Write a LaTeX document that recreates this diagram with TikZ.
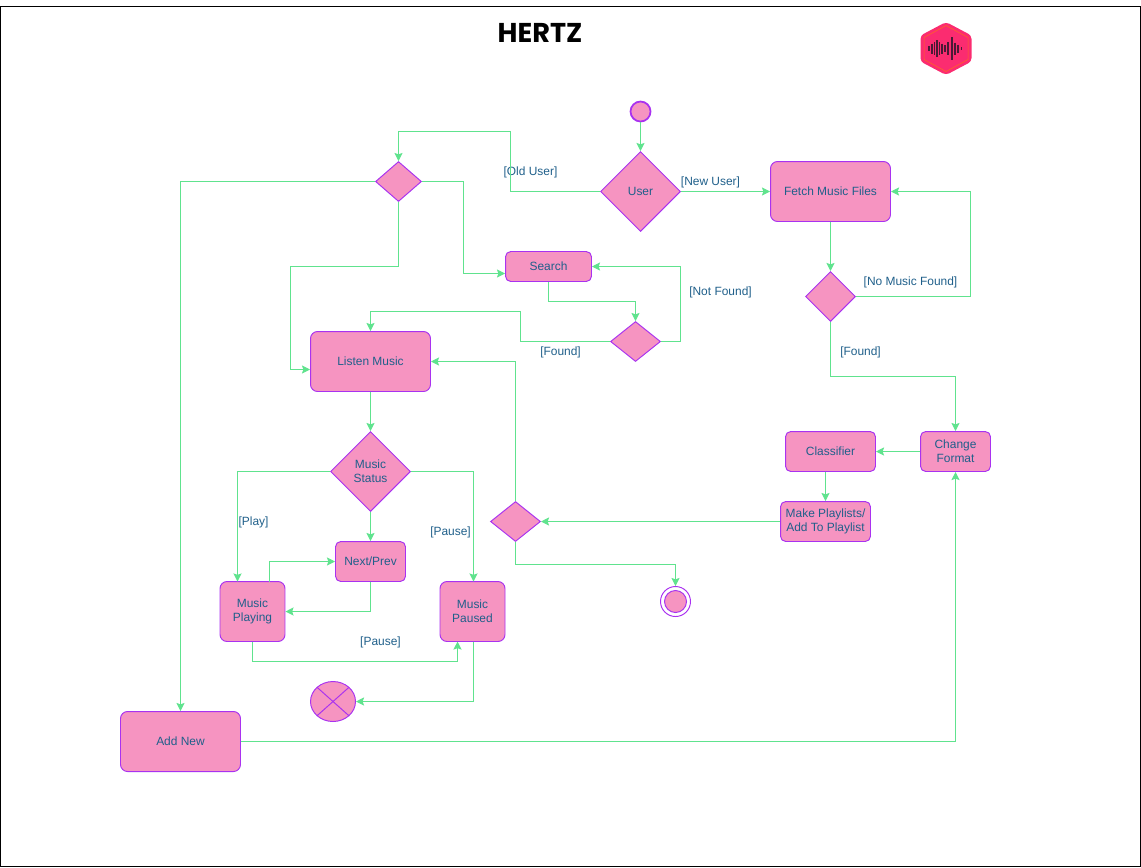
\documentclass[tikz,border=0pt]{standalone}
\usepackage{fontspec}
\setmainfont{Liberation Sans}
\newfontfamily\titlefont{Poppins}
\usepackage{tikz}
\usetikzlibrary{arrows.meta,shapes.geometric}
\definecolor{nodefill}{HTML}{F694C1}
\definecolor{nodeline}{HTML}{A932F0}
\definecolor{flowline}{HTML}{60E38E}
\definecolor{labeltext}{HTML}{1F5F8A}
\definecolor{logopink}{HTML}{FB2C70}
\definecolor{logodark}{HTML}{4A1A35}
\tikzset{
  every node/.style = {font=\fontsize{6.8pt}{8pt}\selectfont, text=labeltext},
  box/.style = {rectangle, rounded corners=4pt, fill=nodefill, draw=nodeline, line width=0.55pt,
    align=center, inner sep=0pt, minimum width=#1},
  choice/.style = {diamond, fill=nodefill, draw=nodeline, line width=0.55pt, align=center, inner sep=0pt},
  disc/.style = {circle, fill=nodefill, draw=nodeline, inner sep=0pt},
  guard/.style = {inner sep=0pt},
  dedge/.style = {draw=flowline, line width=0.55pt, -{Stealth[length=4.6pt,width=4.6pt,inset=0.8pt]}},
}
\begin{document}
\begin{tikzpicture}[x=0.02cm,y=-0.02cm]
  \useasboundingbox (0,0) rectangle (1141,867);
  \draw[black,line width=0.6pt] (0.5,6.5) rectangle (1140.5,866.5);
  \node[guard,font=\titlefont\bfseries\fontsize{15.5pt}{18pt}\selectfont,text=black] (title) at (540,32.5) {HERTZ};

  % logo
  \fill[logopink,rounded corners=2pt] (946,22) -- (971.5,35.5) -- (971.5,61.5) -- (946,75) -- (920.5,61.5) -- (920.5,35.5) -- cycle;
  \draw[orange!70!logopink,line width=0.3pt] (946,25.5) -- (968,37.5) -- (968,59.5) -- (946,71.5) -- (924,59.5) -- (924,37.5) -- cycle;
  \foreach \x/\h in {929/5,932/10,934.5/13,937/17,939.5/13,942/10,945/7,948/13,952/23,955/12,958/8,961.5/3}
    \draw[logodark,line width=0.85pt] (\x,48.5-\h/2) -- (\x,48.5+\h/2);

  % nodes
  \node[disc,line width=1pt,minimum size=0.4cm] (start) at (640.5,111.5) {};
  \node[choice,minimum width=1.6cm,minimum height=1.6cm] (user) at (640.5,191.5) {User};
  \node[choice,minimum width=0.92cm,minimum height=0.8cm] (pick) at (398.5,181.5) {};
  \node[box=2.4cm,minimum height=1.2cm] (fetch) at (830.5,191.5) {Fetch Music Files};
  \node[box=1.72cm,minimum height=0.6cm,rounded corners=3pt] (search) at (548.5,266.5) {Search};
  \node[choice,minimum width=1cm,minimum height=0.8cm] (foundcheck) at (635.5,341.5) {};
  \node[choice,minimum width=1cm,minimum height=1cm] (filecheck) at (830.5,296.5) {};
  \node[box=2.4cm,minimum height=1.2cm] (listen) at (370.5,361.5) {Listen Music};
  \node[choice,minimum width=1.6cm,minimum height=1.6cm] (status) at (370.5,471.5) {Music\\Status};
  \node[box=1.4cm,minimum height=0.8cm,rounded corners=3pt] (format) at (955.5,451.5) {Change\\Format};
  \node[box=1.8cm,minimum height=0.8cm,rounded corners=3pt] (classifier) at (830.5,451.5) {Classifier};
  \node[box=1.8cm,minimum height=0.8cm,rounded corners=3pt] (playlist) at (825.5,521.5) {Make Playlists/\\Add To Playlist};
  \node[choice,minimum width=1cm,minimum height=0.8cm] (merge) at (515.5,521.5) {};
  \node[box=1.4cm,minimum height=0.8cm,rounded corners=3pt] (nextprev) at (370.5,561.5) {Next/Prev};
  \node[box=1.3cm,minimum height=1.2cm] (playing) at (252.5,611.5) {Music\\Playing};
  \node[box=1.3cm,minimum height=1.2cm] (paused) at (472.5,611.5) {Music\\Paused};
  \node[disc,fill=none,line width=0.55pt,minimum size=0.6cm] (finish) at (675.5,601.5) {};
  \node[disc,line width=0.55pt,minimum size=0.44cm] (finishdot) at (675.5,601.5) {};
  \node[ellipse,fill=nodefill,draw=nodeline,line width=0.55pt,inner sep=0pt,minimum width=0.9cm,minimum height=0.8cm] (cross) at (333,701.5) {};
  \draw[nodeline,line width=0.55pt] (cross.north west) -- (cross.south east);
  \draw[nodeline,line width=0.55pt] (cross.north east) -- (cross.south west);
  \node[box=2.4cm,minimum height=1.2cm] (addnew) at (180.5,741.5) {Add New};

  % guards
  \node[guard] (olduser) at (530.5,172) {[Old User]};
  \node[guard] (newuser) at (710.5,182) {[New User]};
  \node[guard] (nomusic) at (910.5,282) {[No Music Found]};
  \node[guard] (notfound) at (720.5,292) {[Not Found]};
  \node[guard] (foundleft) at (560.5,352) {[Found]};
  \node[guard] (foundright) at (860.5,352) {[Found]};
  \node[guard] (play) at (253.5,522) {[Play]};
  \node[guard] (pauseright) at (450.5,532) {[Pause]};
  \node[guard] (pauselow) at (380.5,642) {[Pause]};

  % flows
  \path[dedge] (start) -- (user);
  \path[dedge] (user) -- (fetch);
  \path[dedge] (user.west) -| (510.5,131.5) -| (pick.north);
  \path[dedge] (pick.west) -| (addnew.north);
  \path[dedge] (pick.east) -| (463.5,273.5) -- (search.west |- 0,273.5);
  \path[dedge] (pick.south) |- (290.5,266.5) |- (listen.west |- 0,369.5);
  \path[dedge] (search.south) |- (635.5,301.5) -- (foundcheck.north);
  \path[dedge] (foundcheck.east) -| (680.5,266.5) -- (search.east);
  \path[dedge] (foundcheck.west) -| (520.5,311.5) -| (listen.north);
  \path[dedge] (fetch) -- (filecheck);
  \path[dedge] (filecheck.east) -| (970.5,191.5) -- (fetch.east);
  \path[dedge] (filecheck.south) |- (955.5,376.5) -- (format.north);
  \path[dedge] (format) -- (classifier);
  \path[dedge] (825.5,471.5) -- (playlist.north);
  \path[dedge] (playlist) -- (merge);
  \path[dedge] (merge.north) |- (listen.east);
  \path[dedge] (merge.south) |- (675.5,564.5) -- (finish.north);
  \path[dedge] (listen) -- (status);
  \path[dedge] (status.west) -| (237.5,581.5);
  \path[dedge] (status.east) -| (473.5,581.5);
  \path[dedge] (status) -- (nextprev);
  \path[dedge] (269.5,581.5) |- (nextprev.west);
  \path[dedge] (nextprev.south) |- (playing.east);
  \path[dedge] (playing.south) |- (457.5,661.5) -- (457.5,641.5);
  \path[dedge] (473.5,641.5) |- (cross.east);
  \path[dedge] (addnew.east) -| (format.south);
\end{tikzpicture}
\end{document}
